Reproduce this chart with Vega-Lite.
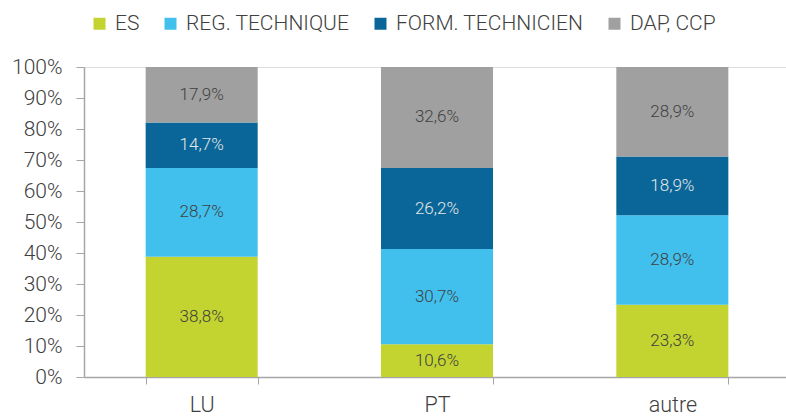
{
  "$schema": "https://vega.github.io/schema/vega-lite/v6.json",
  "width": 706,
  "height": 310,
  "autosize": "none",
  "padding": {"left": 84, "top": 67, "right": 0, "bottom": 39},
  "background": "white",
  "config": {
    "axisY": {
      "title": null,
      "format": ".0%",
      "values": [0, 0.1, 0.2, 0.3, 0.4, 0.5, 0.6, 0.7, 0.8, 0.9, 1],
      "labelOverlap": false,
      "grid": false,
      "tickSize": 8,
      "tickColor": "#a6a6a6",
      "domainColor": "#a6a6a6",
      "domainWidth": 1.5,
      "labelFont": "Roboto",
      "labelFontWeight": 300,
      "labelFontSize": 21,
      "labelColor": "#404040",
      "labelPadding": 14
    }
  },
  "data": {
    "values": [
      {"region": "LU", "cat": "ES", "v": 38.8},
      {"region": "LU", "cat": "REG. TECHNIQUE", "v": 28.7},
      {"region": "LU", "cat": "FORM. TECHNICIEN", "v": 14.7},
      {"region": "LU", "cat": "DAP, CCP", "v": 17.9},
      {"region": "PT", "cat": "ES", "v": 10.6},
      {"region": "PT", "cat": "REG. TECHNIQUE", "v": 30.7},
      {"region": "PT", "cat": "FORM. TECHNICIEN", "v": 26.2},
      {"region": "PT", "cat": "DAP, CCP", "v": 32.6},
      {"region": "autre", "cat": "ES", "v": 23.3},
      {"region": "autre", "cat": "REG. TECHNIQUE", "v": 28.9},
      {"region": "autre", "cat": "FORM. TECHNICIEN", "v": 18.9},
      {"region": "autre", "cat": "DAP, CCP", "v": 28.9}
    ]
  },
  "transform": [
    {"calculate": "indexof(['ES','REG. TECHNIQUE','FORM. TECHNICIEN','DAP, CCP'], datum.cat)", "as": "k"},
    {"stack": "v", "groupby": ["region"], "sort": [{"field": "k", "order": "ascending"}], "offset": "normalize", "as": ["y0", "y1"]},
    {"calculate": "(datum.y0 + datum.y1) / 2", "as": "ym"},
    {"calculate": "replace(format(datum.v, '.1f'), '.', ',') + '%'", "as": "lab"}
  ],
  "encoding": {
    "x": {
      "field": "region",
      "type": "nominal",
      "sort": ["LU", "PT", "autre"],
      "scale": {"paddingInner": 0.524, "paddingOuter": 0.262},
      "axis": {
        "title": null,
        "labelAngle": 0,
        "tickBand": "extent",
        "tickSize": 7,
        "tickColor": "#a6a6a6",
        "domainColor": "#a6a6a6",
        "domainWidth": 1.5,
        "labelFont": "Roboto",
        "labelFontWeight": 300,
        "labelFontSize": 21.5,
        "labelColor": "#404040",
        "labelPadding": 10
      }
    }
  },
  "layer": [
    {
      "mark": {"type": "bar"},
      "encoding": {
        "y": {
          "field": "y0",
          "type": "quantitative",
          "scale": {"domain": [0, 1], "nice": false},
          "axis": {"title": null}
        },
        "y2": {"field": "y1"},
        "color": {
          "field": "cat",
          "type": "nominal",
          "scale": {
            "domain": ["ES", "REG. TECHNIQUE", "FORM. TECHNICIEN", "DAP, CCP"],
            "range": ["#c3d431", "#41c0ee", "#0a6699", "#a0a0a0"]
          },
          "legend": {
            "title": null,
            "orient": "none",
            "direction": "horizontal",
            "legendX": 5,
            "legendY": -54,
            "symbolType": "square",
            "symbolSize": 144,
            "symbolStrokeWidth": 0,
            "labelFont": "Roboto",
            "labelFontWeight": 300,
            "labelFontSize": 21,
            "labelLimit": 0,
            "labelColor": "#404040",
            "labelOffset": 5,
            "columnPadding": 20
          }
        },
        "order": {"field": "k"}
      }
    },
    {
      "mark": {"type": "text", "font": "Roboto", "fontWeight": 300, "fontSize": 17},
      "encoding": {
        "y": {"field": "ym", "type": "quantitative", "axis": {"title": null}},
        "text": {"field": "lab"},
        "color": {
          "condition": {"test": "datum.cat === 'FORM. TECHNICIEN'", "value": "#e6e6e6"},
          "value": "#404040"
        }
      }
    }
  ]
}
